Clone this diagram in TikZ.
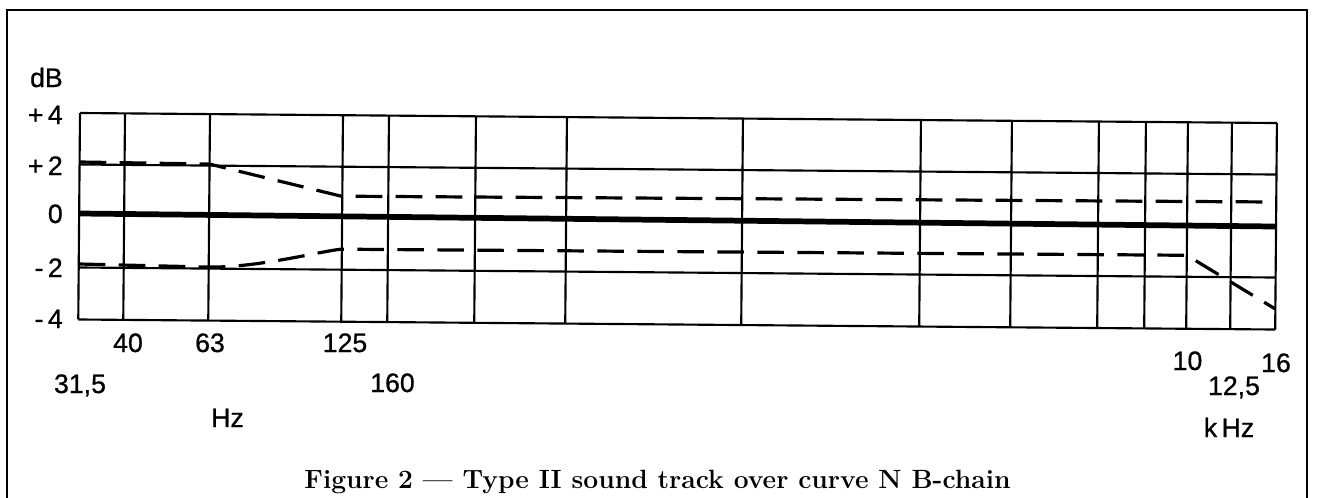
\documentclass[tikz,border=0pt]{standalone}
\usepackage{fontspec}
\setsansfont{Liberation Sans}[UprightFeatures={FakeBold=0.8}]
\begin{document}
\begin{tikzpicture}[x=0.75pt,y=-0.75pt,
  gridline/.style={line width=1.6pt},
  zeroline/.style={line width=4.3pt},
  tol/.style={line width=2.4pt, dash pattern=on 20pt off 10pt},
  lbl/.style={font=\sffamily\fontsize{20pt}{24pt}\selectfont, inner sep=0pt, anchor=base},
  ylbl/.style={lbl, anchor=base east},
  framebox/.style={line width=2.2pt, line join=miter}]
\useasboundingbox (0,0) rectangle (1317,497);
\draw[framebox] (7,505) -- (7,10) -- (1307,10) -- (1307,505);
\begin{scope}[rotate around={-0.48:(80,113)}]
  \foreach \y in {113,164.5,267.5,319.5} \draw[gridline] (80,\y) -- (1277,\y);
  \foreach \x in {80,125,210,343,389,476,567,743,921,1012,1099,1146,1188,1232,1277}
    \draw[gridline] (\x,113) -- (\x,319.5);
  \draw[zeroline] (80,213.5) -- (1277,216.5);
  \draw[tol] (80,162) -- (210,163) -- (342,194) -- (1277,192);
  \draw[tol] (80,264) -- (210,266) .. controls (260,266) and (318,250) .. (342,247) -- (1188,246) -- (1277,299);
\end{scope}
\node[ylbl] (dB) at (63,87) {dB};
\node[ylbl] (p4) at (63,124) {+\,4};
\node[ylbl] (p2) at (63,175) {+\,2};
\node[ylbl] (z0) at (63,223) {0};
\node[ylbl] (m2) at (63,277) {-\,2};
\node[ylbl] (m4) at (63,328) {-\,4};
\node[lbl] (f40) at (128,352) {40};
\node[lbl] (f63) at (210,352) {63};
\node[lbl] (f125) at (345,352) {125};
\node[lbl] (f315) at (80,393) {31,5};
\node[lbl] (f160) at (392.5,392) {160};
\node[lbl] (hz) at (227.5,427) {Hz};
\node[lbl] (f10) at (1187.5,370) {10};
\node[lbl] (f16) at (1276,372) {16};
\node[lbl] (f125k) at (1234,395) {12,5};
\node[lbl] (khz) at (1229,437) {k\,Hz};
\node[font=\rmfamily\bfseries\fontsize{19.8pt}{24pt}\selectfont, anchor=base, inner sep=0pt] (cap) at (657.5,488) {Figure 2 — Type II sound track over curve N B-chain};
\end{tikzpicture}
\end{document}
